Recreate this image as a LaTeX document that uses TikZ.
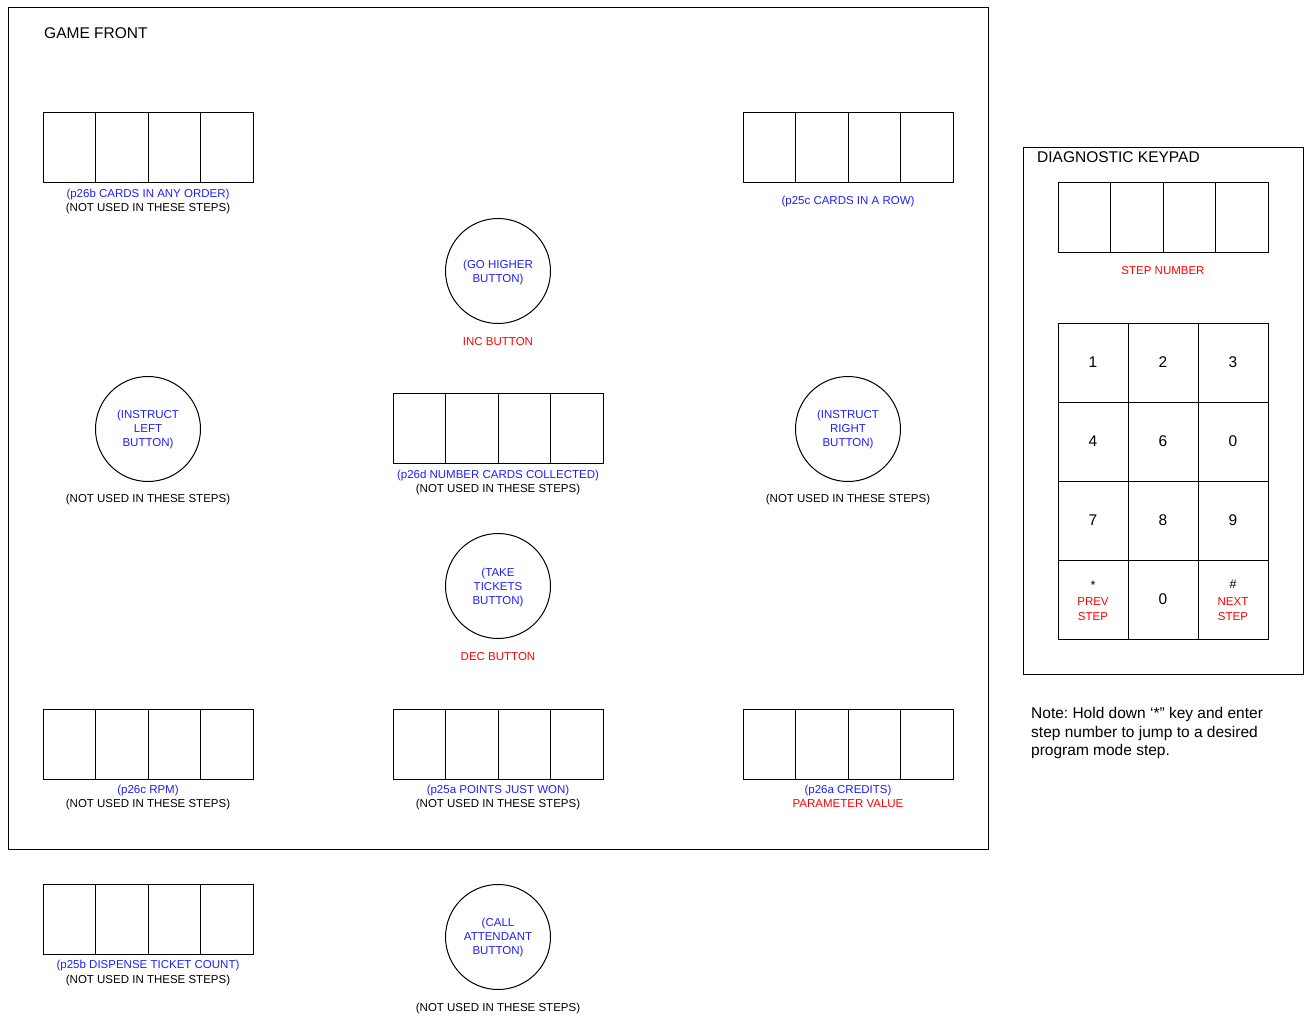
\documentclass[tikz,border=0pt]{standalone}
\usepackage{fontspec}
\setmainfont{Liberation Sans}
\frenchspacing
\definecolor{lblue}{RGB}{30,30,255}
\definecolor{lred}{RGB}{255,0,0}
\tikzset{
  frame/.style={draw, line width=1pt},
  cell/.style={draw, line width=1pt, minimum width=52.5pt, minimum height=70pt, inner sep=0pt, outer sep=0pt},
  key/.style={draw, line width=1pt, minimum width=70pt, minimum height=79pt, inner sep=0pt, outer sep=0pt, font=\fontsize{15.5}{18.5}\selectfont},
  btn/.style={draw, circle, line width=1pt, minimum size=105pt, inner sep=0pt},
  btxt/.style={inner sep=0pt, align=center, text=lblue, font=\fontsize{11.5}{14}\selectfont},
  sm/.style={inner sep=0pt, anchor=base, font=\fontsize{11.5}{14}\selectfont},
  bl/.style={sm, text=lblue},
  rd/.style={sm, text=lred},
  big/.style={inner sep=0pt, anchor=base west, font=\fontsize{15.5}{18.5}\selectfont},
}
\newcommand\dispbox[3]{%
  \foreach \i in {0,...,3} {\node[cell] (#1\i) at ({#2+26.25+52.5*\i},{#3+35}) {};}}
\begin{document}
\begin{tikzpicture}[x=1pt,y=-1pt]
\useasboundingbox (0,0) rectangle (1309,1016);
% frames
\draw[frame] (8,8) rectangle (988,849);
\draw[frame] (1023,148) rectangle (1303,674);
\node[big] (gf) at (44,38.5) {GAME FRONT};
\node[big] (dk) at (1037,162.5) {DIAGNOSTIC KEYPAD};
% displays
\dispbox{da}{43}{113}
\node[bl] (la1) at (148,198) {(p26b CARDS IN ANY ORDER)};
\node[sm] (la2) at (148,212) {(NOT USED IN THESE STEPS)};
\dispbox{db}{743}{113}
\node[bl] (lb1) at (848,205) {(p25c CARDS IN A ROW)};
\dispbox{dd}{393}{393}
\node[bl] (ld1) at (498,478) {(p26d NUMBER CARDS COLLECTED)};
\node[sm] (ld2) at (498,492) {(NOT USED IN THESE STEPS)};
\dispbox{dc}{43}{709}
\node[bl] (lc1) at (148,793) {(p26c RPM)};
\node[sm] (lc2) at (148,807) {(NOT USED IN THESE STEPS)};
\dispbox{de}{393}{709}
\node[bl] (le1) at (498,793) {(p25a POINTS JUST WON)};
\node[sm] (le2) at (498,807) {(NOT USED IN THESE STEPS)};
\dispbox{df}{743}{709}
\node[bl] (lf1) at (848,793) {(p26a CREDITS)};
\node[rd] (lf2) at (848,807) {PARAMETER VALUE};
\dispbox{dg}{43}{884}
\node[bl] (lg1) at (148,968) {(p25b DISPENSE TICKET COUNT)};
\node[sm] (lg2) at (148,983) {(NOT USED IN THESE STEPS)};
\dispbox{ds}{1058}{183}
\node[rd] (ls1) at (1163,275) {STEP NUMBER};
% buttons
\node[btn] (inc) at (498,271) {};
\node[btxt] (inct) at (498,272.5) {(GO HIGHER\\BUTTON)};
\node[rd] (linc) at (498,345) {INC BUTTON};
\node[btn] (il) at (148,429) {};
\node[btxt] (ilt) at (148,429.5) {(INSTRUCT\\LEFT\\BUTTON)};
\node[sm] (lil) at (148,502) {(NOT USED IN THESE STEPS)};
\node[btn] (ir) at (848,429) {};
\node[btxt] (irt) at (848,429.5) {(INSTRUCT\\RIGHT\\BUTTON)};
\node[sm] (lir) at (848,502) {(NOT USED IN THESE STEPS)};
\node[btn] (dec) at (498,586) {};
\node[btxt] (dect) at (498,587.5) {(TAKE\\TICKETS\\BUTTON)};
\node[rd] (ldec) at (498,660) {DEC BUTTON};
\node[btn] (ca) at (498,937) {};
\node[btxt] (cat) at (498,937.5) {(CALL\\ATTENDANT\\BUTTON)};
\node[sm] (lca) at (498,1011) {(NOT USED IN THESE STEPS)};
% keypad
\node[key] (k1) at (1093,362.5) {1};
\node[key] (k2) at (1163,362.5) {2};
\node[key] (k3) at (1233,362.5) {3};
\node[key] (k4) at (1093,441.5) {4};
\node[key] (k6) at (1163,441.5) {6};
\node[key] (k0a) at (1233,441.5) {0};
\node[key] (k7) at (1093,520.5) {7};
\node[key] (k8) at (1163,520.5) {8};
\node[key] (k9) at (1233,520.5) {9};
\node[key] (kst) at (1093,599.5) {};
\node[key] (k0b) at (1163,599.5) {0};
\node[key] (khs) at (1233,599.5) {};
\node[sm, font=\fontsize{12.5}{14}\selectfont] (star) at (1093,589) {*};
\node[rd] (prev1) at (1093,605) {PREV};
\node[rd] (prev2) at (1093,620) {STEP};
\node[sm, font=\fontsize{12.5}{14}\selectfont] (hash) at (1233,588.5) {\#};
\node[rd] (next1) at (1233,605) {NEXT};
\node[rd] (next2) at (1233,620) {STEP};
% note
\node[big] (n1) at (1031,718.5) {Note: Hold down ‘*” key and enter};
\node[big] (n2) at (1031,737) {step number to jump to a desired};
\node[big] (n3) at (1031,755.5) {program mode step.};
\end{tikzpicture}
\end{document}
